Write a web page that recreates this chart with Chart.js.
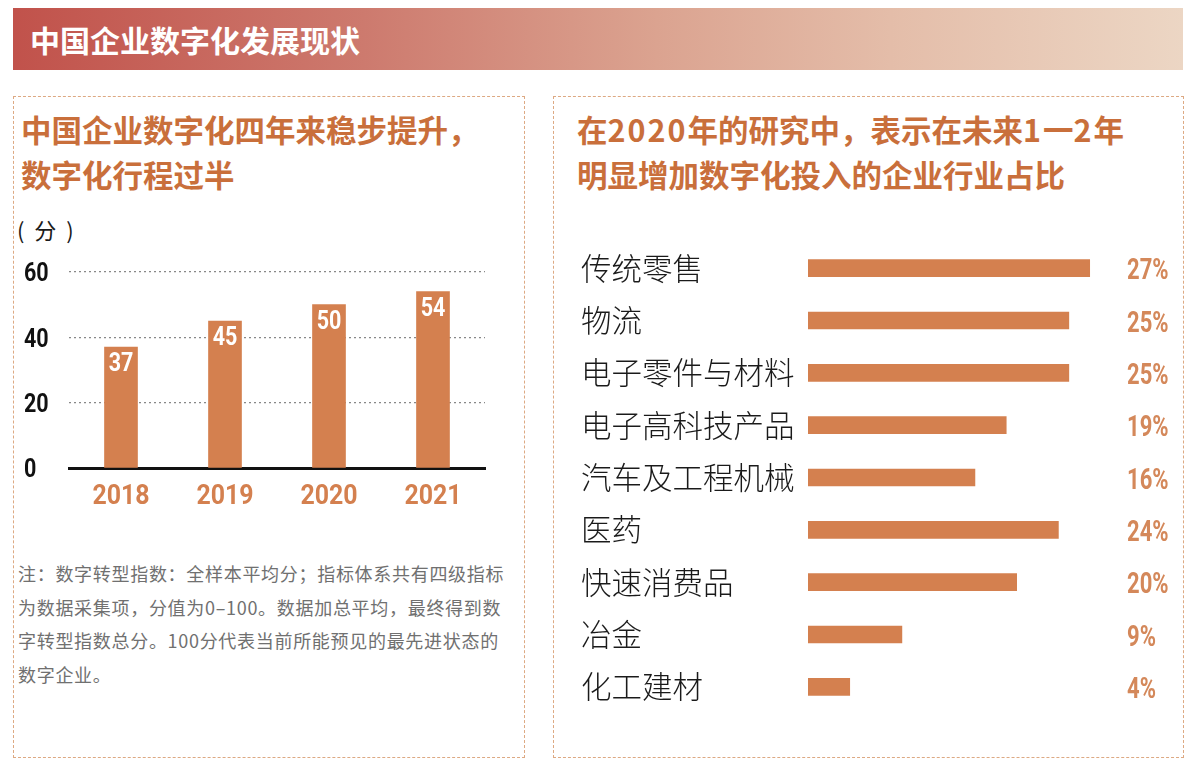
<!DOCTYPE html>
<html lang="zh">
<head>
<meta charset="utf-8">
<script src="https://cdn.jsdelivr.net/npm/chart.js@4.4.1/dist/chart.umd.min.js"></script>
<style>
  body { margin: 0; width: 1196px; height: 770px; background: #fff; position: relative; overflow: hidden;
         font-family: "Noto Sans CJK SC", "Noto Sans", sans-serif; }
  .abs { position: absolute; }
  #header { left: 13px; top: 8px; width: 1170px; height: 62px;
            background: linear-gradient(90deg, #c1524b 0%, #cd7a6e 30%, #dba390 55%, #e4bda9 75%, #ecd6c4 100%); }
  #header span { position: absolute; left: 17px; top: 0; line-height: 62px; font-size: 30px; font-weight: bold; color: #fff; }
  .box { border: 1.5px dashed #dda983; box-sizing: border-box; }
  .title { font-size: 30.5px; font-weight: bold; color: #c96f3b; line-height: 45px; white-space: nowrap; }
  #note { left: 18px; top: 557px; font-size: 18px; letter-spacing: 0.7px; line-height: 33.5px; color: #707070; white-space: nowrap; }
  #unit { left: 17px; top: 215px; font-size: 22px; line-height: 28px; color: #1a1a1a; white-space: pre; }
</style>
</head>
<body>
<div id="header" class="abs"><span>中国企业数字化发展现状</span></div>

<div class="abs box" style="left:13px; top:96px; width:512px; height:662px;"></div>
<div class="abs box" style="left:553px; top:96px; width:631px; height:662px;"></div>

<div class="abs title" style="left:21px; top:107px;">中国企业数字化四年来稳步提升，<br>数字化行程过半</div>
<div class="abs title" style="left:577px; top:107px;">在<span style="letter-spacing:2px">2020</span>年的研究中，表示在未来<span style="letter-spacing:2px">1</span>一<span style="letter-spacing:2px">2</span>年<br>明显增加数字化投入的企业行业占比</div>

<div id="unit" class="abs">(  分  )</div>

<div class="abs" style="left:14px; top:250px; width:500px; height:270px;">
  <canvas id="scoreChart"></canvas>
</div>

<div id="note" class="abs">注：数字转型指数：全样本平均分；指标体系共有四级指标<br>为数据采集项，分值为0–100。数据加总平均，最终得到数<br>字转型指数总分。100分代表当前所能预见的最先进状态的<br>数字企业。</div>

<div class="abs" style="left:581px; top:230px; width:600px; height:500px;">
  <canvas id="industryChart"></canvas>
</div>

<script>
// data
const years = ['2018', '2019', '2020', '2021'];
const scores = [37, 45, 50, 54];
const scoreTicks = [0, 20, 40, 60];

const industries = ['传统零售', '物流', '电子零件与材料', '电子高科技产品', '汽车及工程机械', '医药', '快速消费品', '冶金', '化工建材'];
const shares = [27, 25, 25, 19, 16, 24, 20, 9, 4];

const barColor = '#d4804f';

// numbers in the picture use a narrow DIN-like face; squeeze Roboto to get close
function narrowText(ctx, text, x, y, opts) {
  ctx.save();
  ctx.font = 'bold ' + opts.size + 'px Roboto, sans-serif';
  ctx.fillStyle = opts.color;
  ctx.textAlign = opts.align || 'center';
  ctx.textBaseline = 'middle';
  ctx.translate(x, y);
  ctx.scale(opts.sx || 0.85, 1);
  ctx.fillText(text, 0, 0);
  ctx.restore();
}

// tick labels + value labels for the score chart
const scoreLabels = {
  id: 'scoreLabels',
  afterDatasetsDraw(chart) {
    const ctx = chart.ctx;
    const xs = chart.scales.x, ys = chart.scales.y;
    scoreTicks.forEach(v => {
      narrowText(ctx, String(v), ys.left, ys.getPixelForValue(v) + 3, { size: 25, color: '#111', align: 'left', sx: 0.86 });
    });
    years.forEach((y, i) => {
      narrowText(ctx, y, xs.getPixelForTick(i), chart.chartArea.bottom + 29, { size: 28, color: barColor, sx: 0.89 });
    });
    chart.getDatasetMeta(0).data.forEach((bar, i) => {
      narrowText(ctx, String(scores[i]), bar.x, bar.y + 18, { size: 25, color: '#fff', sx: 0.86 });
    });
  }
};

// percent labels at the right edge (industry chart)
const percentLabels = {
  id: 'percentLabels',
  afterDatasetsDraw(chart) {
    const ctx = chart.ctx;
    chart.getDatasetMeta(0).data.forEach((bar, i) => {
      narrowText(ctx, shares[i] + '%', chart.chartArea.right + 6, bar.y + 4, { size: 29, color: '#d4885a', align: 'left', sx: 0.76 });
    });
  }
};

document.addEventListener('DOMContentLoaded', function() {
  new Chart(document.getElementById('scoreChart').getContext('2d'), {
    type: 'bar',
    data: {
      labels: years,
      datasets: [{ data: scores, backgroundColor: barColor, barThickness: 33 }]
    },
    options: {
      responsive: true,
      maintainAspectRatio: false,
      animation: false,
      layout: { padding: { left: 10, right: 29, top: 22, bottom: 0 } },
      plugins: { legend: { display: false }, tooltip: { enabled: false } },
      scales: {
        x: {
          grid: { color: 'transparent', drawTicks: false },
          border: { display: true, color: '#111', width: 3 },
          ticks: { display: false },
          afterFit(scale) { scale.height = 52; }
        },
        y: {
          min: 0, max: 60,
          afterBuildTicks(scale) { scale.ticks = scoreTicks.map(v => ({ value: v })); },
          grid: {
            color: c => c.tick && c.tick.value === 0 ? 'transparent' : '#888',
            lineWidth: 1.2,
            drawTicks: false
          },
          border: { display: false, dash: [2, 3] },
          ticks: { display: false },
          afterFit(scale) { scale.width = 45; scale.paddingTop = 0; scale.paddingBottom = 0; }
        }
      }
    },
    plugins: [scoreLabels]
  });

  new Chart(document.getElementById('industryChart').getContext('2d'), {
    type: 'bar',
    data: {
      labels: industries,
      datasets: [{ data: shares, backgroundColor: barColor, barThickness: 17 }]
    },
    options: {
      indexAxis: 'y',
      responsive: true,
      maintainAspectRatio: false,
      animation: false,
      layout: { padding: { left: 0, right: 60, top: 12, bottom: 17 } },
      plugins: { legend: { display: false }, tooltip: { enabled: false } },
      scales: {
        x: { min: 0, max: 30, display: false },
        y: {
          grid: { display: false },
          border: { display: false },
          ticks: { color: '#1a1a1a', crossAlign: 'far', font: { family: "'Noto Sans CJK SC', sans-serif", size: 30.5, weight: 300 } },
          afterFit(scale) { scale.width = 227; scale.paddingTop = 0; scale.paddingBottom = 0; }
        }
      }
    },
    plugins: [percentLabels]
  });
});
</script>
</body>
</html>
